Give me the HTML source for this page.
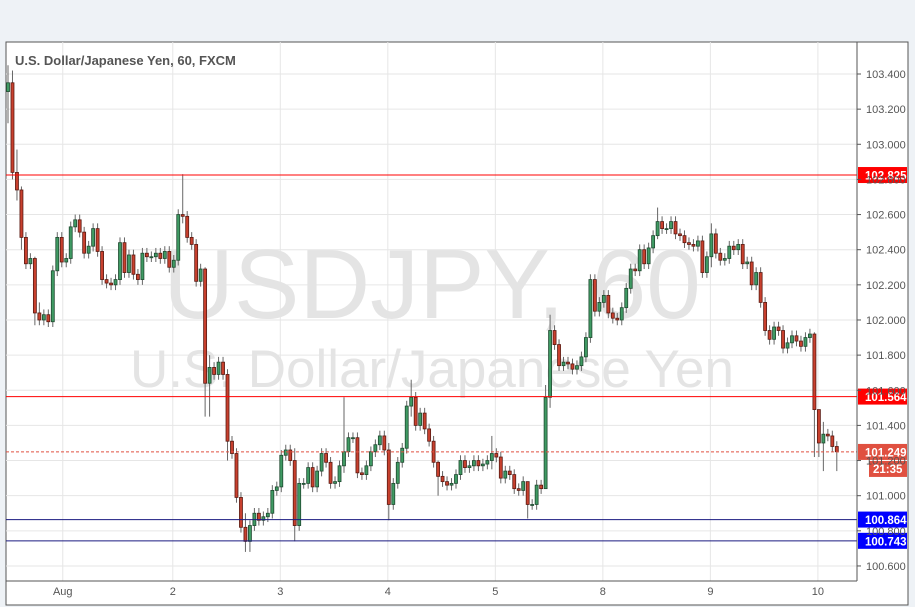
<!DOCTYPE html>
<html><head><meta charset="utf-8">
<style>
body{margin:0;background:#eef2f6;font-family:"Liberation Sans",sans-serif;}
svg{display:block}
</style></head>
<body>
<svg width="915" height="607" id="chart">
<rect x="6" y="42" width="902" height="563" fill="#fff" stroke="#555"/>
<g id="grid"></g>
<text x="432" y="318" font-size="98" fill="#e4e4e4" text-anchor="middle">USDJPY, 60</text>
<text x="432" y="387" font-size="53" fill="#e4e4e4" text-anchor="middle">U.S. Dollar/Japanese Yen</text>
<g id="candles"></g>
<g id="levels"></g>
<line x1="857" y1="42" x2="857" y2="581" stroke="#555"/>
<line x1="6" y1="581" x2="857" y2="581" stroke="#555"/>
<g id="axes"></g>
<text x="15" y="65" font-size="13" font-weight="bold" fill="#555">U.S. Dollar/Japanese Yen, 60, FXCM</text>
</svg>
<script>
const closes=[103.35,102.84,102.74,102.47,102.32,102.35,102.04,102.00,102.03,101.99,
102.28,102.47,102.33,102.35,102.53,102.57,102.50,102.38,102.42,102.52,
102.39,102.23,102.21,102.20,102.23,102.44,102.27,102.37,102.26,102.23,
102.38,102.36,102.36,102.38,102.35,102.39,102.30,102.34,102.60,102.59,
102.47,102.43,102.22,102.29,101.64,101.73,101.69,101.76,101.69,101.31,
101.24,100.99,100.82,100.74,100.83,100.90,100.86,100.88,100.90,101.03,
101.05,101.23,101.26,101.20,100.83,101.07,101.07,101.16,101.05,101.14,
101.24,101.19,101.07,101.08,101.17,101.25,101.33,101.33,101.13,101.12,
101.17,101.25,101.29,101.34,101.26,100.95,101.07,101.19,101.27,101.51,
101.56,101.40,101.47,101.38,101.31,101.19,101.11,101.08,101.06,101.07,
101.12,101.20,101.16,101.17,101.20,101.17,101.18,101.20,101.24,101.22,
101.10,101.14,101.12,101.04,101.03,101.08,100.95,100.95,101.06,101.04,
101.56,101.94,101.86,101.74,101.76,101.75,101.72,101.74,101.79,101.90,
102.23,102.05,102.10,102.14,102.04,102.01,102.00,102.07,102.18,102.29,
102.28,102.40,102.32,102.41,102.48,102.56,102.52,102.52,102.56,102.49,
102.48,102.44,102.43,102.42,102.45,102.27,102.36,102.49,102.38,102.34,
102.35,102.42,102.40,102.43,102.32,102.33,102.20,102.27,102.10,101.94,
101.89,101.96,101.94,101.84,101.87,101.91,101.88,101.85,101.90,101.92,
101.49,101.30,101.35,101.34,101.28,101.25];
const firstOpen=103.30;
const extremes={0:[103.45,103.12],1:[103.42,102.80],2:[102.97,102.68],3:[102.76,102.40],6:[102.36,101.97],7:[102.10,101.97],
39:[102.83,102.55],44:[102.30,101.45],45:[101.80,101.45],49:[101.72,101.20],53:[100.90,100.68],54:[100.86,100.68],
64:[101.27,100.74],75:[101.56,101.13],85:[101.30,100.86],90:[101.66,101.45],96:[101.20,101.00],108:[101.34,101.15],
116:[101.08,100.87],120:[101.63,101.15],121:[102.03,101.50],145:[102.64,102.46],157:[102.55,102.30],
180:[101.93,101.22],181:[101.49,101.22],182:[101.42,101.14],185:[101.31,101.14]};
const dayLabels=["Aug","2","3","4","5","8","9","10"];
const dayStartIdx=[12,36,60,84,108,132,156,180];
const priceTicks=[103.4,103.2,103.0,102.8,102.6,102.4,102.2,102.0,101.8,101.6,101.4,101.2,101.0,100.8,100.6];
const levelValues=[102.825,101.564,101.249,100.864,100.743];
const levelColors=["#ff0000","#ff0000","#e05040","#0000ff","#0000ff"];

const NS="http://www.w3.org/2000/svg";
function y(p){return 74+(103.4-p)*175.7;}
function x(i){return 8+i*4.48;}
function mk(tag,attrs,parent){const e=document.createElementNS(NS,tag);for(const k in attrs)e.setAttribute(k,attrs[k]);parent.appendChild(e);return e;}
const grid=document.getElementById('grid'),cg=document.getElementById('candles'),lg=document.getElementById('levels'),ax=document.getElementById('axes');
priceTicks.forEach(p=>{
  const l=mk('line',{x1:6,x2:857,y1:y(p),y2:y(p),stroke:'#e6e6e6'},grid);
  
  
  const t=mk('line',{x1:857,x2:861,y1:y(p),y2:y(p),stroke:'#555'},ax);
  
  
  const tx=mk('text',{x:866,y:y(p)+4,'font-size':11,fill:'#555'},ax);
  tx.textContent=p.toFixed(3);
  
  
});
dayStartIdx.forEach((d,k)=>{
  const xx=x(d)+(k===0?1:3.5);
  const l=mk('line',{x1:xx,x2:xx,y1:42,y2:581,stroke:'#e6e6e6'},grid);
  
  
  const t=mk('text',{x:xx,y:595,'font-size':11,fill:'#555','text-anchor':'middle'},ax);
  t.textContent=dayLabels[k];
  
  
});
closes.forEach((c,i)=>{
  const o=i===0?firstOpen:closes[i-1];
  const ex=extremes[i];
  const hi=ex?ex[0]:Math.max(o,c)+0.03, lo=ex?ex[1]:Math.min(o,c)-0.03;
  const up=c>=o;
  const g=mk('g',{},cg);
  
  
  mk('line',{x1:x(i),x2:x(i),y1:y(hi),y2:y(lo),stroke:'#666'},g);
  const top=y(Math.max(o,c)),h=Math.max(1,Math.abs(y(o)-y(c)));
  mk('rect',{x:x(i)-1.5,y:top,width:3,height:h,fill:up?'#3f9a63':'#c8402e',stroke:up?'#1f4a30':'#5a1a12','stroke-width':0.8},g);
});
levelValues.forEach((v,k)=>{
  const l=mk('line',{x1:6,x2:857,y1:y(v),y2:y(v),stroke:k>=3?'#1a1a80':levelColors[k],'stroke-width':1},lg);
  if(k===2)l.setAttribute('stroke-dasharray','3,2');
  
  
  const r=mk('rect',{x:858,y:y(v)-8,width:49,height:16,fill:levelColors[k]},lg);
  
  
  const t=mk('text',{x:865,y:y(v)+4.5,'font-size':11.5,'font-weight':'bold',fill:'#fff'},lg);
  t.textContent=v.toFixed(3);
  
  
});
const cb=mk('rect',{x:869,y:y(101.249)+9,width:38,height:16,fill:'#e05040'},lg);


const ct=mk('text',{x:873,y:y(101.249)+21,'font-size':11.5,'font-weight':'bold',fill:'#fff'},lg);
ct.textContent='21:35';


</script>
</body></html>
